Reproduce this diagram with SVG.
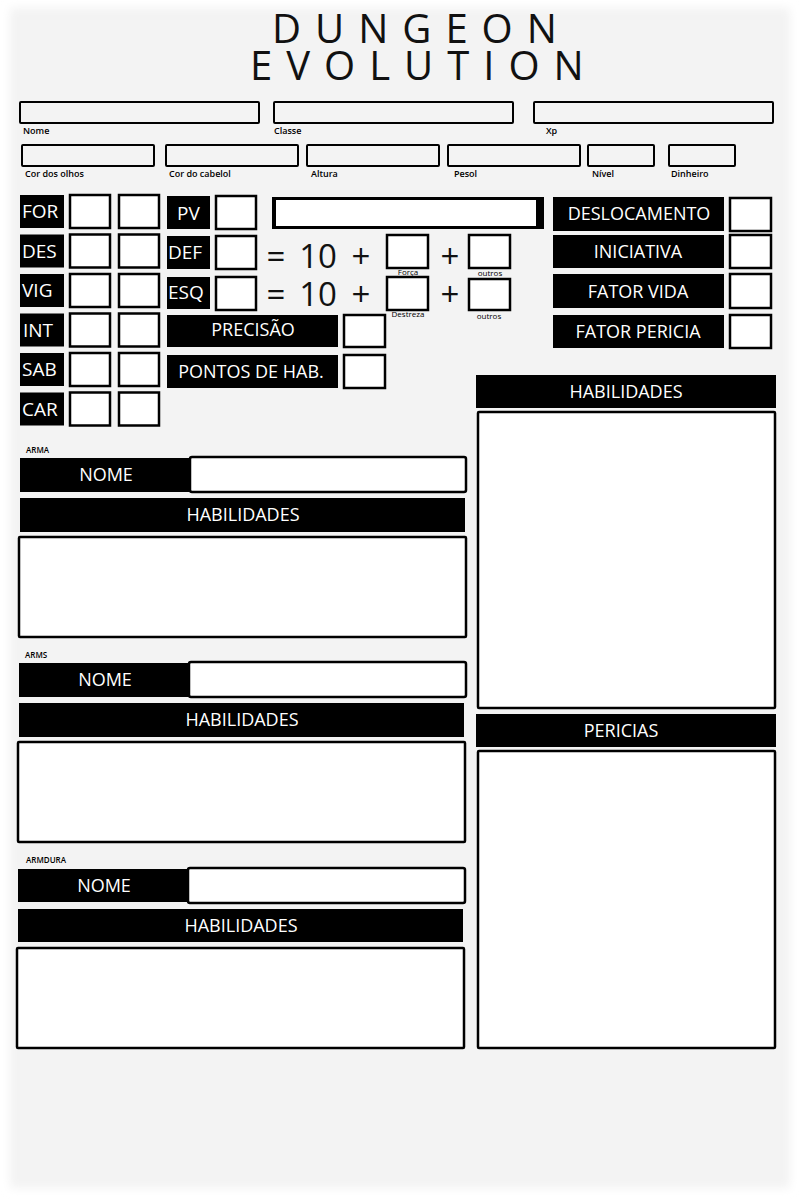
<svg xmlns="http://www.w3.org/2000/svg" width="800" height="1200" viewBox="0 0 800 1200">
<defs>
<filter id="soft" x="-5%" y="-5%" width="110%" height="110%"><feGaussianBlur stdDeviation="5"/></filter>
<style>
.blk{fill:#000}
.box{fill:#fff;stroke:#000;stroke-width:2.5}
.fld{fill:none;stroke:#000;stroke-width:2}
text{font-family:"Open Sans","Noto Sans","Liberation Sans",sans-serif}
.wt{fill:#fff;font-size:18px}
.ws{fill:#fff;font-size:19px}
.cap{font-size:9px;font-weight:600;fill:#000}
.tiny{font-size:8px;fill:#000}
.eq{font-size:33px;fill:#111;text-anchor:middle}
.c{text-anchor:middle}
.title{font-size:40px;fill:#111;letter-spacing:14px}
</style>
</defs>
<rect x="0" y="0" width="800" height="1200" fill="#fff"/>
<rect x="10" y="8" width="780" height="1180" fill="#f3f3f3" filter="url(#soft)"/>

<g id="title">
<text class="title" x="272" y="43">DUNGEON</text>
<text class="title" x="250" y="80">EVOLUTION</text>
</g>

<g id="fields">
<rect class="fld" x="20" y="102" width="239" height="21" rx="1"/><text class="cap" x="23" y="134">Nome</text>
<rect class="fld" x="274" y="102" width="239" height="21" rx="1"/><text class="cap" x="274" y="134">Classe</text>
<rect class="fld" x="534" y="102" width="239" height="21" rx="1"/><text class="cap" x="546" y="134">Xp</text>
<rect class="fld" x="22" y="145" width="132" height="21" rx="1"/><text class="cap" x="25" y="177">Cor dos olhos</text>
<rect class="fld" x="166" y="145" width="132" height="21" rx="1"/><text class="cap" x="169" y="177">Cor do cabelol</text>
<rect class="fld" x="307" y="145" width="132" height="21" rx="1"/><text class="cap" x="311" y="177">Altura</text>
<rect class="fld" x="448" y="145" width="132" height="21" rx="1"/><text class="cap" x="454" y="177">Pesol</text>
<rect class="fld" x="588" y="145" width="66" height="21" rx="1"/><text class="cap" x="592" y="177">Nível</text>
<rect class="fld" x="669" y="145" width="66" height="21" rx="1"/><text class="cap" x="671" y="177">Dinheiro</text>
</g>

<g id="attributes">
<g id="for"><rect class="blk" x="20" y="195" width="44" height="33"/><text class="ws" x="22" y="218">FOR</text><rect class="box" x="70" y="195" width="40" height="33"/><rect class="box" x="119" y="195" width="40" height="33"/></g>
<g id="des"><rect class="blk" x="20" y="234.5" width="44" height="33"/><text class="ws" x="22" y="257.5">DES</text><rect class="box" x="70" y="234.5" width="40" height="33"/><rect class="box" x="119" y="234.5" width="40" height="33"/></g>
<g id="vig"><rect class="blk" x="20" y="274" width="44" height="33"/><text class="ws" x="22" y="297">VIG</text><rect class="box" x="70" y="274" width="40" height="33"/><rect class="box" x="119" y="274" width="40" height="33"/></g>
<g id="int"><rect class="blk" x="20" y="313.5" width="44" height="33"/><text class="ws" x="23" y="336.5">INT</text><rect class="box" x="70" y="313.5" width="40" height="33"/><rect class="box" x="119" y="313.5" width="40" height="33"/></g>
<g id="sab"><rect class="blk" x="20" y="353" width="44" height="33"/><text class="ws" x="22" y="376">SAB</text><rect class="box" x="70" y="353" width="40" height="33"/><rect class="box" x="119" y="353" width="40" height="33"/></g>
<g id="car"><rect class="blk" x="20" y="392.5" width="44" height="33"/><text class="ws" x="22" y="415.5">CAR</text><rect class="box" x="70" y="392.5" width="40" height="33"/><rect class="box" x="119" y="392.5" width="40" height="33"/></g>
</g>

<g id="pv">
<rect class="blk" x="167" y="196" width="43" height="33"/><text class="ws" x="177" y="220">PV</text>
<rect class="box" x="216" y="196" width="40" height="33"/>
<rect class="blk" x="272" y="197" width="272" height="32"/>
<rect x="276" y="200" width="260" height="26" fill="#fff"/>
</g>

<g id="def">
<rect class="blk" x="167" y="236" width="43" height="33"/><text class="ws" x="168" y="259">DEF</text>
<rect class="box" x="216" y="236" width="40" height="33"/>
<text class="eq" x="276" y="268">=</text><text class="eq" x="318" y="268">10</text><text class="eq" x="361" y="268">+</text>
<rect class="box" x="387" y="235" width="41" height="33"/><text class="tiny c" x="408" y="275">Força</text>
<text class="eq" x="450" y="268">+</text>
<rect class="box" x="469" y="235" width="41" height="33"/><text class="tiny c" x="490" y="276">outros</text>
</g>

<g id="esq">
<rect class="blk" x="167" y="277" width="43" height="32"/><text class="ws" x="168" y="299">ESQ</text>
<rect class="box" x="216" y="277" width="40" height="33"/>
<text class="eq" x="276" y="306">=</text><text class="eq" x="318" y="306">10</text><text class="eq" x="361" y="306">+</text>
<rect class="box" x="387" y="277" width="41" height="33"/><text class="tiny c" x="408" y="317">Destreza</text>
<text class="eq" x="450" y="306">+</text>
<rect class="box" x="469" y="279" width="41" height="31"/><text class="tiny c" x="489" y="319">outros</text>
</g>

<g id="precisao">
<rect class="blk" x="167" y="315" width="171" height="32"/><text class="wt c" x="253" y="336">PRECISÃO</text>
<rect class="box" x="344" y="315" width="41" height="32"/>
</g>
<g id="pontos">
<rect class="blk" x="167" y="355" width="171" height="33"/><text class="wt c" x="251" y="378">PONTOS DE HAB.</text>
<rect class="box" x="344" y="355" width="41" height="33"/>
</g>

<g id="deslocamento"><rect class="blk" x="553" y="197" width="171" height="34"/><text class="wt c" x="639" y="220">DESLOCAMENTO</text><rect class="box" x="730" y="198" width="41" height="33"/></g>
<g id="iniciativa"><rect class="blk" x="553" y="235" width="171" height="33"/><text class="wt c" x="638" y="258">INICIATIVA</text><rect class="box" x="730" y="235" width="41" height="33"/></g>
<g id="fatorvida"><rect class="blk" x="553" y="274" width="171" height="34"/><text class="wt c" x="638" y="298">FATOR VIDA</text><rect class="box" x="730" y="274" width="41" height="34"/></g>
<g id="fatorpericia"><rect class="blk" x="553" y="315" width="171" height="33"/><text class="wt c" x="638" y="338">FATOR PERICIA</text><rect class="box" x="730" y="315" width="41" height="33"/></g>

<g id="habilidades-geral">
<rect class="blk" x="476" y="375" width="300" height="33"/><text class="wt c" x="626" y="398">HABILIDADES</text>
<rect class="box" x="478" y="412" width="297" height="296" rx="1"/>
</g>
<g id="pericias">
<rect class="blk" x="476" y="714" width="300" height="33"/><text class="wt c" x="621" y="737">PERICIAS</text>
<rect class="box" x="478" y="751" width="297" height="297" rx="1"/>
</g>

<g id="arma">
<text class="cap" x="26" y="453" style="font-size:8px">ARMA</text>
<rect class="blk" x="20" y="458" width="171" height="34"/><text class="wt c" x="106" y="481">NOME</text>
<rect class="box" x="190" y="457" width="276" height="35" rx="2"/>
<rect class="blk" x="20" y="498" width="445" height="34"/><text class="wt c" x="243" y="521">HABILIDADES</text>
<rect class="box" x="19" y="537" width="447" height="100" rx="1"/>
</g>
<g id="arms">
<text class="cap" x="25" y="658" style="font-size:8px">ARMS</text>
<rect class="blk" x="19" y="663" width="170" height="34"/><text class="wt c" x="105" y="686">NOME</text>
<rect class="box" x="189" y="662" width="277" height="35" rx="2"/>
<rect class="blk" x="19" y="703" width="445" height="34"/><text class="wt c" x="242" y="726">HABILIDADES</text>
<rect class="box" x="18" y="742" width="447" height="100" rx="1"/>
</g>
<g id="armdura">
<text class="cap" x="26" y="863" style="font-size:8px">ARMDURA</text>
<rect class="blk" x="18" y="869" width="171" height="33"/><text class="wt c" x="104" y="892">NOME</text>
<rect class="box" x="188" y="868" width="277" height="35" rx="2"/>
<rect class="blk" x="18" y="909" width="445" height="33"/><text class="wt c" x="241" y="932">HABILIDADES</text>
<rect class="box" x="17" y="948" width="447" height="100" rx="1"/>
</g>
</svg>
